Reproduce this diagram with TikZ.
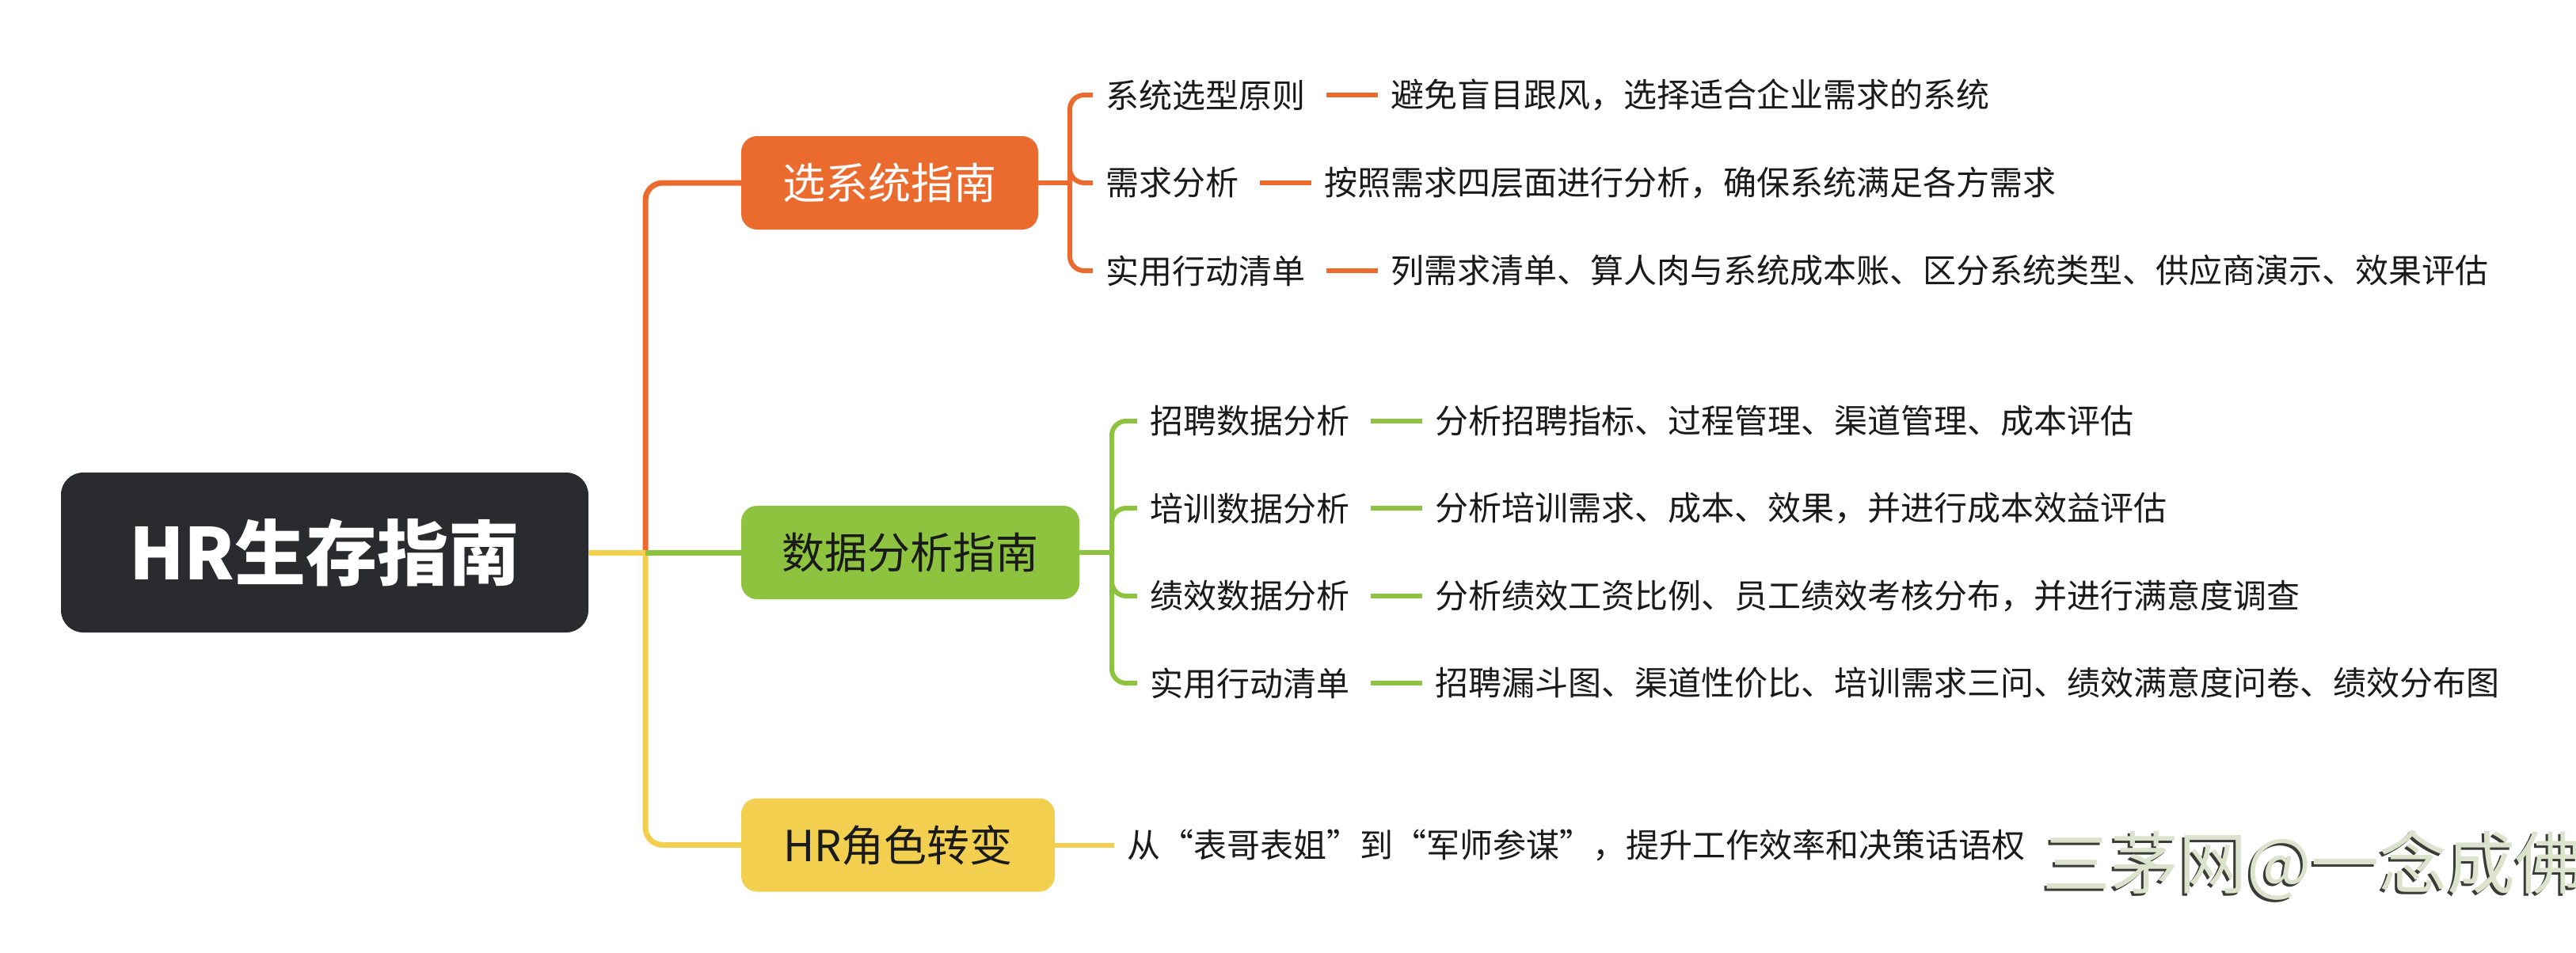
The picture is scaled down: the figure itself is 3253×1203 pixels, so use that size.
\documentclass[tikz,border=0pt]{standalone}
\usepackage{fontspec}
\setmainfont{Noto Sans CJK SC}
\usetikzlibrary{positioning}
\definecolor{org}{HTML}{EB6A2D}
\definecolor{grn}{HTML}{8DC33F}
\definecolor{ylw}{HTML}{F2CF4F}
\definecolor{rootc}{HTML}{2A2B2F}
\definecolor{txt}{HTML}{1A1A1A}
\definecolor{wmc}{HTML}{DCE3CC}
\definecolor{wms}{HTML}{3A3A36}
\begin{document}
\begin{tikzpicture}[x=1pt,y=-1pt,
  rootbox/.style={fill=rootc, rounded corners=28pt, minimum width=666pt, minimum height=202pt, inner sep=0pt, text=white, font=\fontsize{90pt}{100pt}\selectfont\bfseries},
  mainbox/.style={rounded corners=20pt, minimum height=118pt, inner sep=0pt, font=\fontsize{54pt}{60pt}\selectfont},
  leaf/.style={anchor=west, inner xsep=16pt, inner ysep=0pt, text=txt, font=\fontsize{42pt}{48pt}\selectfont},
  desc/.style={right=92pt of #1, inner sep=0pt, text=txt, font=\fontsize{42pt}{48pt}\selectfont},
  trunkline/.style={line width=7pt, rounded corners=22pt},
  branchline/.style={line width=6pt, rounded corners=18pt},
  dashline/.style={line width=6pt, shorten <=11pt, shorten >=16pt},
  wmtext/.style={anchor=west, inner sep=0pt, font=\fontsize{86pt}{96pt}\selectfont}
]
\fill[white] (0,0) rectangle (3253,1203);
\useasboundingbox (0,0) rectangle (3253,1203);

% main nodes
\node[rootbox] (root) at (410,698) {HR生存指南};
\node[mainbox, fill=org, text=white, minimum width=375pt] (obox) at (1123.5,231) {选系统指南};
\node[mainbox, fill=grn, text=txt, minimum width=427pt] (gbox) at (1149.5,698) {数据分析指南};
\node[mainbox, fill=ylw, text=txt, minimum width=396pt] (ybox) at (1134,1067.5) {HR角色转变};

\coordinate (hub) at (815,698);
\coordinate (ob) at (1351,231);
\coordinate (gb) at (1404,698);

% trunk connectors
\draw[trunkline, draw=org] (hub) |- (obox.west);
\draw[trunkline, draw=ylw] (hub) |- (ybox.west);
\draw[trunkline, draw=grn] (hub) -- (gbox.west);
\draw[trunkline, draw=ylw] (root.east) -- (hub);

% orange leaves
\node[leaf] (o1) at (1380,120) {系统选型原则};
\node[desc=o1] (od1) {避免盲目跟风，选择适合企业需求的系统};
\node[leaf] (o2) at (1380,231) {需求分析};
\node[desc=o2] (od2) {按照需求四层面进行分析，确保系统满足各方需求};
\node[leaf] (o3) at (1380,342) {实用行动清单};
\node[desc=o3] (od3) {列需求清单、算人肉与系统成本账、区分系统类型、供应商演示、效果评估};

\draw[branchline, draw=org] (obox.east) -- (ob);
\foreach \n in {o1,o2,o3}{\draw[branchline, draw=org] (ob) |- (\n.west);}
\draw[dashline, draw=org] (o1) -- (od1);
\draw[dashline, draw=org] (o2) -- (od2);
\draw[dashline, draw=org] (o3) -- (od3);

% green leaves
\node[leaf] (g1) at (1436,532) {招聘数据分析};
\node[desc=g1] (gd1) {分析招聘指标、过程管理、渠道管理、成本评估};
\node[leaf] (g2) at (1436,642) {培训数据分析};
\node[desc=g2] (gd2) {分析培训需求、成本、效果，并进行成本效益评估};
\node[leaf] (g3) at (1436,753) {绩效数据分析};
\node[desc=g3] (gd3) {分析绩效工资比例、员工绩效考核分布，并进行满意度调查};
\node[leaf] (g4) at (1436,863) {实用行动清单};
\node[desc=g4] (gd4) {招聘漏斗图、渠道性价比、培训需求三问、绩效满意度问卷、绩效分布图};

\draw[branchline, draw=grn] (gbox.east) -- (gb);
\foreach \n in {g1,g2,g3,g4}{\draw[branchline, draw=grn] (gb) |- (\n.west);}
\draw[dashline, draw=grn] (g1) -- (gd1);
\draw[dashline, draw=grn] (g2) -- (gd2);
\draw[dashline, draw=grn] (g3) -- (gd3);
\draw[dashline, draw=grn] (g4) -- (gd4);

% yellow leaf
\node[leaf] (y1) at (1407,1067.5) {从“表哥表姐”到“军师参谋”，提升工作效率和决策话语权};
\draw[branchline, draw=ylw] (ybox.east) -- (y1.west);

% watermark
\node[wmtext, text=wms] (wms) at (2576,1096) {三茅网@一念成佛};
\node[wmtext, text=wmc] (wm) at (2579,1093) {三茅网@一念成佛};
\end{tikzpicture}
\end{document}
